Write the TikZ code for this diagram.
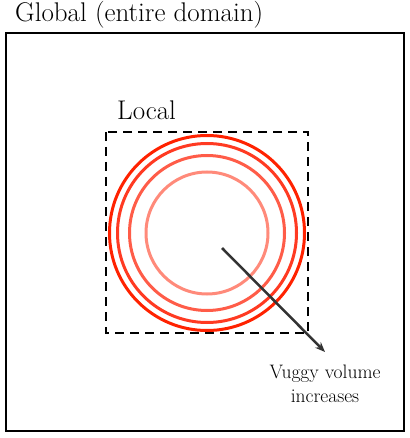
\documentclass[tikz,border=0pt]{standalone}
\usepackage{fontspec}
\usepackage{tikz}
\usetikzlibrary{positioning, arrows.meta, calc}
\definecolor{ringa}{HTML}{FF2200}
\definecolor{ringb}{HTML}{FF3A22}
\definecolor{ringc}{HTML}{FF5C48}
\definecolor{ringd}{HTML}{FF8A7A}
\definecolor{pfeilgrau}{HTML}{333333}

\begin{document}
\begin{tikzpicture}[x=1pt, y=-1pt,
    bigtext/.style={font=\fontsize{27}{30}\selectfont, inner sep=0pt},
    smalltext/.style={font=\fontsize{19.5}{24}\selectfont, align=center, inner sep=0pt},
    ring/.style={line width=3pt}]
    \useasboundingbox (0,0) rectangle (409,438);

    % --- GLOBAL ---
    \draw[line width=2.5pt] (6,33) rectangle (404,431);
    \node[bigtext, anchor=base west] (global) at (15,22) {Global (entire domain)};

    % --- LOCAL ---
    \draw[line width=2.8pt, dash pattern=on 9pt off 6pt] (106,132) rectangle (308,333);
    \node[bigtext, anchor=base west] (local) at (117,120) {Local};

    % Ringe (von aussen nach innen)
    \coordinate (mitte) at (207,233);
    \draw[ring, ringa] (mitte) circle (97.5);
    \draw[ring, ringb] (mitte) circle (89.5);
    \draw[ring, ringc] (mitte) circle (77.5);
    \draw[ring, ringd] (mitte) circle (61);

    % --- PFEIL ---
    \coordinate (start) at (222,248);
    \coordinate (ende) at (325,352);
    \draw[line width=2.5pt, pfeilgrau, -{Stealth[length=10pt, width=8pt]}] (start) -- (ende);
    \node[smalltext, anchor=base] (vuggy) at (325,402) {Vuggy volume\\increases};
\end{tikzpicture}
\end{document}
